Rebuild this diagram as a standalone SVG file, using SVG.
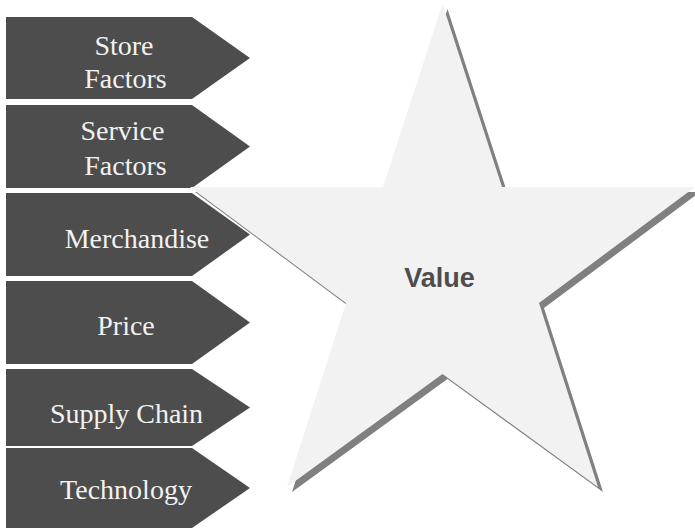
<svg xmlns="http://www.w3.org/2000/svg" width="695" height="529" viewBox="0 0 695 529">
  <style>
    .arrow { fill: #4d4d4d; }
    .lbl { font-family: "Liberation Serif", "Times New Roman", serif; font-size: 28px; fill: #f2f2f2; text-anchor: middle; }
    .star { fill: #f2f2f2; }
    .shadow { fill: #808080; }
    .value { font-family: "Liberation Sans", Arial, sans-serif; font-size: 27px; font-weight: bold; fill: #4d4d4d; text-anchor: middle; }
  </style>
  <rect width="695" height="529" fill="#ffffff"/>
  <g id="store-factors">
    <polygon class="arrow" points="6,17 192,17 250,58 192,99 6,99"/>
    <text class="lbl" x="124" y="54.5">Store</text>
    <text class="lbl" x="125.5" y="88">Factors</text>
  </g>
  <g id="service-factors">
    <polygon class="arrow" points="6,105 192,105 250,146.5 192,188 6,188"/>
    <text class="lbl" x="122.5" y="140">Service</text>
    <text class="lbl" x="125.5" y="175">Factors</text>
  </g>
  <g id="merchandise">
    <polygon class="arrow" points="6,193 192,193 250,234.5 192,276 6,276"/>
    <text class="lbl" x="137" y="248">Merchandise</text>
  </g>
  <g id="price">
    <polygon class="arrow" points="6,281 192,281 250,322.5 192,364 6,364"/>
    <text class="lbl" x="126" y="335">Price</text>
  </g>
  <g id="supply-chain">
    <polygon class="arrow" points="6,369 192,369 250,407.5 192,446 6,446"/>
    <text class="lbl" x="126.5" y="423">Supply Chain</text>
  </g>
  <g id="technology">
    <polygon class="arrow" points="6,448 192,448 250,488 192,528 6,528"/>
    <text class="lbl" x="126" y="499">Technology</text>
  </g>
  <g id="value">
    <polygon class="shadow" transform="translate(5,5)" points="442.5,4 502,187 695,187 539,303 598,487 442.5,374 287,487 346,303 190,187 383,187"/>
    <polygon class="star" points="442.5,4 502,187 695,187 539,303 598,487 442.5,374 287,487 346,303 190,187 383,187"/>
    <text class="value" x="439.5" y="287">Value</text>
  </g>
  <g id="connectors"/>
</svg>
